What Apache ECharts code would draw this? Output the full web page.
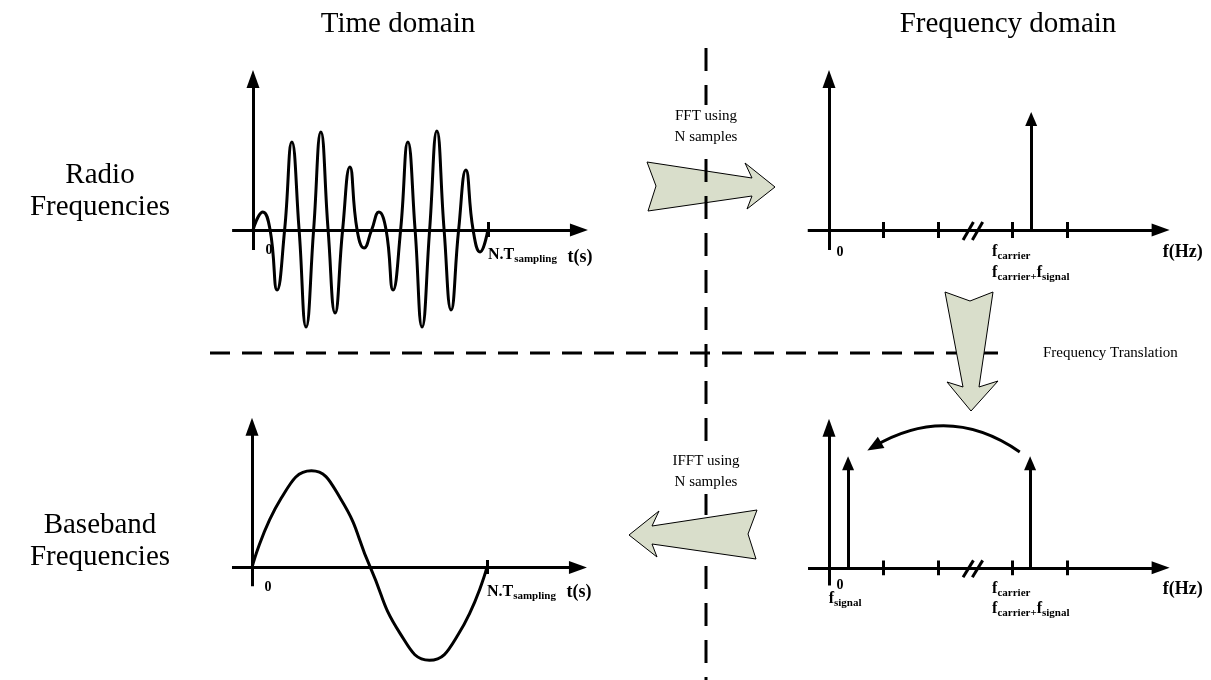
<!DOCTYPE html>
<html><head><meta charset="utf-8">
<script src="https://cdn.jsdelivr.net/npm/echarts@6/dist/echarts.min.js"></script>
<style>html,body{margin:0;padding:0;background:#fff}#c{width:1211px;height:680px}</style>
</head><body><div id="c"></div>
<script>
// ---------------- DATA ----------------
// Radio-frequency time signal (extrema and zero crossings), t in arbitrary sample units
const rfTime = [0, 0.34, 0.59, 0.83, 1.09, 1.34, 1.59, 1.83, 2.09, 2.34, 2.59, 2.83, 3.09, 3.34, 3.59, 3.83, 4.09, 4.34, 4.59, 4.83, 5.09, 5.34, 5.59, 5.83, 6.09, 6.34, 6.59, 6.83, 7.09, 7.34, 7.59, 7.83, 8.10];
const rfAmp  = [0, 0.18, 0, -0.60, 0, 0.88, 0, -0.97, 0, 0.98, 0, -0.83, 0, 0.63, 0, -0.18, 0, 0.18, 0, -0.60, 0, 0.88, 0, -0.97, 0, 0.99, 0, -0.80, 0, 0.60, 0, -0.22, 0];
// Baseband time signal
const bbTime = [0, 1.01, 2.05, 3.06, 4.08, 5.10, 6.12, 7.12, 8.10];
const bbAmp  = [0, 0.74, 1.03, 0.73, 0, -0.70, -0.99, -0.71, 0];
const sampleEnd = 8.1;                    // N.T_sampling
// Frequency axes
const freqTicks = [1, 2, 3.36, 4.38];
const freqBreak = [2.46, 2.63];          // the two strokes of the "//" axis break
const rfSpecFreq = [3.71];
const rfSpecAmp  = [1.18];
const bbSpecFreq = [0.35, 3.69];
const bbSpecAmp  = [1.19, 1.19];
const translationFrom = [3.50, 1.24];
const translationTo   = [0.83, 1.30];
// Text
const colTitles = ['Time domain', 'Frequency domain'];
const rowTitles = ['Radio\nFrequencies', 'Baseband\nFrequencies'];
const fftText = 'FFT using\nN samples';
const ifftText = 'IFFT using\nN samples';
const translationText = 'Frequency Translation';

// ---------------- LAYOUT ----------------
const SERIF = '"Liberation Serif", "Times New Roman", serif';
const T0 = -0.8, T1 = 11.6, F0 = -0.5, F1 = 6.4, V0 = -1.2, V1 = 1.7;
const TPX = 29, FPX = 54.5, VPX = 100;
const panels = [
  {ox: 253, oy: 230, k: 't', ax: [-0.72, 11.24], ay: [-0.2, 1.51]},
  {ox: 829, oy: 230, k: 'f', ax: [-0.39, 6.085], ay: [-0.2, 1.51]},
  {ox: 252, oy: 578, k: 't', ax: [-0.69, 11.24], ay: [-0.2, 1.50]},
  {ox: 829, oy: 579, k: 'f', ax: [-0.385, 6.085], ay: [-0.19, 1.50]}
];
const grid = panels.map(p => {
  const mn = p.k === 't' ? T0 : F0, mx = p.k === 't' ? T1 : F1, s = p.k === 't' ? TPX : FPX;
  return {left: p.ox + mn * s, top: p.oy - V1 * VPX, width: (mx - mn) * s, height: (V1 - V0) * VPX, show: false};
});
const xAxis = panels.map((p, i) => ({type: 'value', gridIndex: i, min: p.k === 't' ? T0 : F0, max: p.k === 't' ? T1 : F1, show: false}));
const yAxis = panels.map((p, i) => ({type: 'value', gridIndex: i, min: V0, max: V1, show: false}));

const LS = {color: '#000', width: 3, opacity: 1, curveness: 0};
function linesSeries(g, data, arrow, size, extra) {
  return Object.assign({
    type: 'lines', coordinateSystem: 'cartesian2d', xAxisIndex: g, yAxisIndex: g,
    polyline: false, silent: true, animation: false, z: 3,
    symbol: arrow ? ['none', 'triangle'] : ['none', 'none'],
    symbolSize: arrow ? [0, size] : 0,
    lineStyle: Object.assign({}, LS),
    itemStyle: {color: '#000'},
    data: data.map(c => ({coords: c}))
  }, extra || {});
}

const series = [];
// axes with arrow heads
panels.forEach((p, g) => {
  series.push(linesSeries(g, [[[p.ax[0], 0], [p.ax[1], 0]], [[0, p.ay[0]], [0, p.ay[1]]]], true, [13, 18]));
});
// ticks
[0, 2].forEach(g => series.push(linesSeries(g, [[[sampleEnd, -0.07], [sampleEnd, 0.08]]], false)));
[1, 3].forEach(g => {
  const d = freqTicks.map(f => [[f, -0.08], [f, 0.08]]);
  freqBreak.forEach(b => d.push([[b, -0.1], [b + 0.19, 0.08]]));
  series.push(linesSeries(g, d, false));
});
// spectral lines
const HEAD = 7 / VPX;
series.push(linesSeries(1, rfSpecFreq.map((f, i) => [[f, 0], [f, rfSpecAmp[i] - HEAD]]), true, [12, 14]));
series.push(linesSeries(3, bbSpecFreq.map((f, i) => [[f, 0], [f, bbSpecAmp[i] - HEAD]]), true, [12, 14]));
// frequency translation curved arrow
series.push(linesSeries(3, [[translationFrom, translationTo]], true, [13, 16],
  {lineStyle: Object.assign({}, LS, {curveness: -0.32})}));
// time signals
series.push({type: 'line', xAxisIndex: 0, yAxisIndex: 0, data: rfTime.map((t, i) => [t, rfAmp[i]]),
  smooth: true, showSymbol: false, silent: true, animation: false, z: 4, lineStyle: {color: '#000', width: 3}});
series.push({type: 'line', xAxisIndex: 2, yAxisIndex: 2, data: bbTime.map((t, i) => [t, bbAmp[i]]),
  smooth: true, showSymbol: false, silent: true, animation: false, z: 4, lineStyle: {color: '#000', width: 3}});

const chart = echarts.init(document.getElementById('c'), null, {renderer: 'canvas'});
chart.setOption({animation: false, grid, xAxis, yAxis, series});

// ---------------- TEXT & DECORATION ----------------
const P = (g, x, y) => chart.convertToPixel({gridIndex: g}, [x, y]);
const B = {fontFamily: SERIF, fontWeight: 'bold', fill: '#000'};
const rich = {
  n: {fontFamily: SERIF, fontWeight: 'bold', fontSize: 16, lineHeight: 20, fill: '#000'},
  z: {fontFamily: SERIF, fontWeight: 'bold', fontSize: 14, lineHeight: 20, fill: '#000'},
  h: {fontFamily: SERIF, fontWeight: 'bold', fontSize: 18, lineHeight: 20, fill: '#000'},
  s: {fontFamily: SERIF, fontWeight: 'bold', fontSize: 11, lineHeight: 10, verticalAlign: 'bottom', fill: '#000'}
};
function t(xy, dx, dy, text, align, z) {
  return {type: 'text', x: xy[0] + dx, y: xy[1] + dy, z: z || 10,
    style: Object.assign({}, B, {text, rich, align: align || 'left', verticalAlign: 'middle'})};
}
const g = [];
// time panel labels
[0, 2].forEach(k => {
  g.push(t(P(k, 0, 0), 16, 20, '{z|0}', 'center'));
  g.push(t(P(k, sampleEnd, 0), 0, k === 0 ? 25 : 24, '{n|N.T}{s|sampling}'));
  g.push(t(P(k, T1, 0), -22, k === 0 ? 27 : 25, '{h|t(s)}'));
});
// frequency panel labels
[1, 3].forEach(k => {
  const top = k === 1;
  g.push(t(P(k, 0, 0), 11, top ? 22 : 18, '{z|0}', 'center'));
  const fc = P(k, freqTicks[2], 0);
  g.push(t(fc, -20, top ? 22 : 21, '{n|f}{s|carrier}'));
  g.push(t(fc, -20, top ? 43 : 41, '{n|f}{s|carrier+}{n|f}{s|signal}'));
  g.push(t(P(k, F1, 0), -15, top ? 22 : 21, '{h|f(Hz)}'));
});
g.push(t(P(3, bbSpecFreq[0], 0), -3, 31, '{n|f}{s|signal}', 'center'));

const ARROW_FILL = '#d9decb';
const serifStyle = (text, size, extra) => Object.assign({text, fontFamily: SERIF, fontSize: size, fill: '#000', align: 'center', verticalAlign: 'middle'}, extra || {});
g.push(
  {type: 'text', x: 398, y: 24, z: 10, style: serifStyle(colTitles[0], 29)},
  {type: 'text', x: 1008, y: 24, z: 10, style: serifStyle(colTitles[1], 29)},
  {type: 'text', x: 100, y: 191, z: 10, style: serifStyle(rowTitles[0], 29, {lineHeight: 32})},
  {type: 'text', x: 100, y: 541, z: 10, style: serifStyle(rowTitles[1], 29, {lineHeight: 32})},
  // FFT arrow (under the dashed line)
  {type: 'polygon', z: 1, shape: {points: [[647,162],[752,178],[745,163],[775,187],[747,209],[752,196],[648,211],[656,186]]},
    style: {fill: ARROW_FILL, stroke: '#000', lineWidth: 1}},
  // dashed separators
  {type: 'line', z: 5, shape: {x1: 706, y1: 48, x2: 706, y2: 680}, style: {stroke: '#000', lineWidth: 3, lineDash: [23, 14]}},
  {type: 'line', z: 5, shape: {x1: 210, y1: 353, x2: 1002, y2: 353}, style: {stroke: '#000', lineWidth: 3, lineDash: [20, 12]}},
  // IFFT arrow
  {type: 'polygon', z: 7, shape: {points: [[757,510],[652,526],[659,511],[629,535],[657,557],[652,544],[756,559],[748,534]]},
    style: {fill: ARROW_FILL, stroke: '#000', lineWidth: 1}},
  // frequency translation arrow
  {type: 'polygon', z: 7, shape: {points: [[945,292],[970,301],[993,292],[979,387],[998,381],[971,411],[947,382],[963,387]]},
    style: {fill: ARROW_FILL, stroke: '#000', lineWidth: 1}},
  {type: 'text', x: 706, y: 127, z: 8, style: serifStyle(fftText, 15, {lineHeight: 21, backgroundColor: '#fff', padding: [1, 3]})},
  {type: 'text', x: 706, y: 472, z: 8, style: serifStyle(ifftText, 15, {lineHeight: 21, backgroundColor: '#fff', padding: [1, 3]})},
  {type: 'text', x: 1043, y: 353, z: 8, style: serifStyle(translationText, 15, {align: 'left'})}
);
chart.setOption({graphic: g});
</script></body></html>
